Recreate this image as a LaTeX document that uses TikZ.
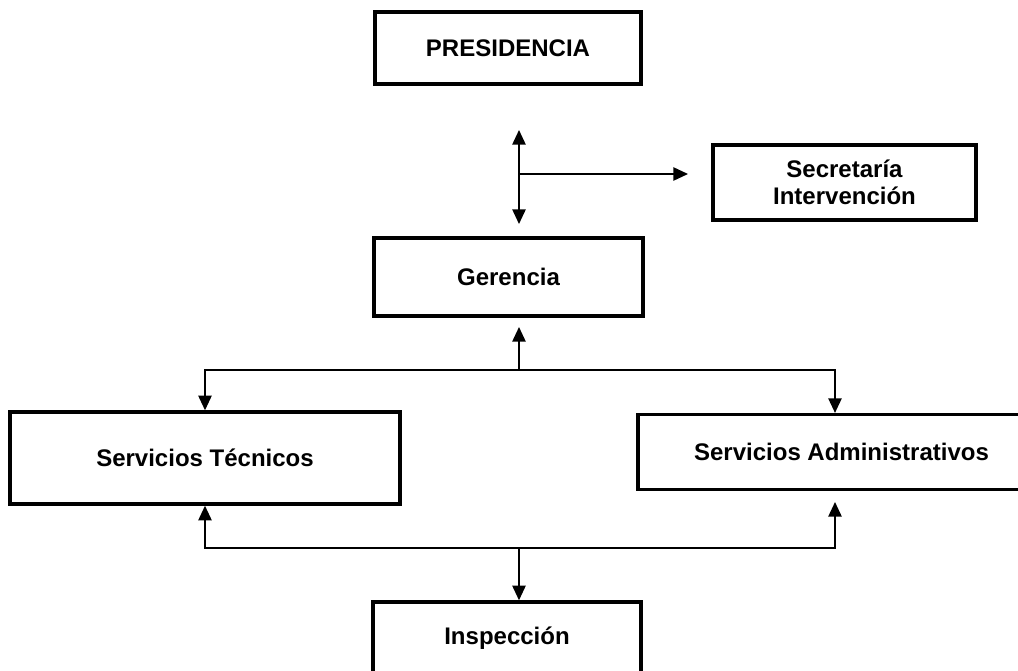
\documentclass[tikz,border=0pt]{standalone}
\usepackage{fontspec}
\setmainfont{Liberation Sans}
\usetikzlibrary{arrows.meta}

\begin{document}
\begin{tikzpicture}[x=0.75pt,y=-0.75pt,
  box/.style={draw,line width=2.6pt,rectangle,align=center,inner sep=0pt,
    font=\fontsize{18}{20}\selectfont\bfseries},
  conn/.style={line width=1.2pt,>={Triangle[length=11pt,width=10pt]}}]
\clip (0,0) rectangle (1018,671);
\node[box,minimum width=199.5pt,minimum height=54pt] (pres) at (508,48) {PRESIDENCIA};
\node[box,minimum width=197pt,minimum height=56pt] (sec) at (844.5,182.5) {Secretaría\\Intervención};
\node[box,minimum width=202pt,minimum height=58.5pt] (ger) at (508.5,277) {Gerencia};
\node[box,minimum width=292.5pt,minimum height=69pt] (st) at (205,458) {Servicios Técnicos};
\node[box,minimum width=305pt,minimum height=56pt] (sa) at (841.5,452) {Servicios Administrativos};
\node[box,minimum width=201pt,minimum height=54pt] (insp) at (507,638) {Inspección};
\coordinate (pgup) at (519,130);
\coordinate (pgdn) at (519,224);
\coordinate (pgmid) at (519,174);
\coordinate (secin) at (688,174);
\coordinate (gertip) at (519,327);
\coordinate (tm) at (519,370);
\coordinate (tl) at (205,370);
\coordinate (tr) at (835,370);
\coordinate (satip) at (835,502);
\coordinate (bm) at (519,548);
\coordinate (bl) at (205,548);
\coordinate (br) at (835,548);
\draw[conn,<->] (pgup) -- (pgdn);
\draw[conn,->] (pgmid) -- (secin);
\draw[conn,->] (tm) -- (gertip);
\draw[conn,->] (tm) -- (tl) -- (st.north);
\draw[conn,->] (tm) -- (tr) -- (sa.north -| tr);
\draw[conn,->] (bm) -- (bl) -- (st.south);
\draw[conn,->] (bm) -- (br) -- (satip);
\draw[conn,->] (bm) -- (insp.north -| bm);
\end{tikzpicture}
\end{document}
